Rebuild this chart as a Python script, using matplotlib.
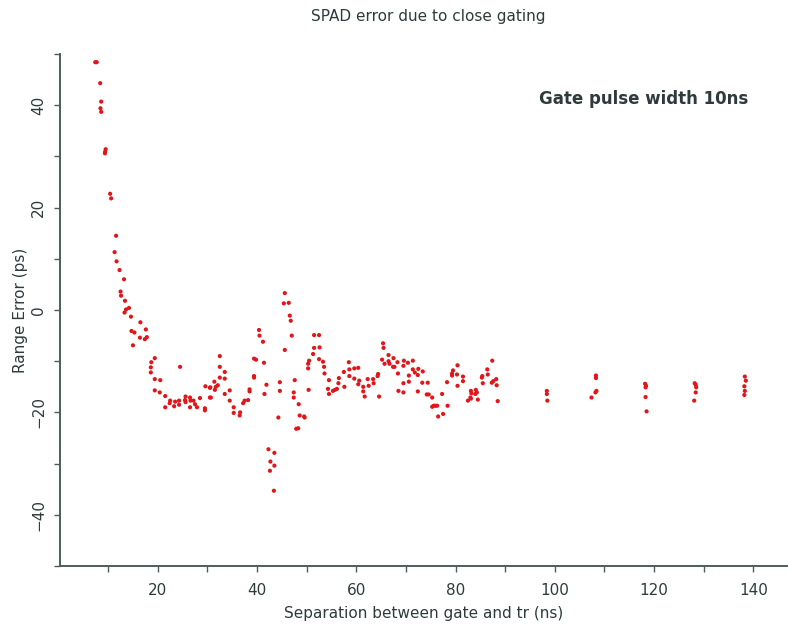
import matplotlib
matplotlib.use("Agg")
import matplotlib.pyplot as plt
from matplotlib.ticker import MultipleLocator

# Data: separation (ns) vs range error (ps)
sep_ns = [
    7.4, 7.7, 8.4, 8.6, 8.45, 8.6, 9.5, 9.4, 9.35, 10.4, 10.6, 11.6, 11.3, 11.7, 12.3, 13.2,
    12.5, 12.6, 13.4, 14.2, 13.6, 13.3, 14.6, 16.5, 17.6, 14.7, 15.3, 16.4, 17.4, 17.8, 15.0,
    19.4, 18.7, 18.6, 18.6, 19.4, 20.5, 24.5, 19.4, 20.4, 21.5, 22.5, 22.4, 23.5, 24.3, 23.3,
    21.5, 24.3, 25.6, 25.5, 25.6, 26.5, 26.6, 27.2, 27.5, 27.9, 28.5, 26.5, 29.5, 29.5, 30.5,
    29.6, 30.6, 31.5, 31.4, 32.1, 31.7, 32.5, 32.5, 32.5, 33.5, 33.5, 34.5, 33.5, 34.5, 35.3,
    35.3, 36.6, 36.5, 38.5, 38.5, 37.5, 37.2, 38.2, 39.4, 39.8, 40.4, 40.5, 41.2, 41.4, 39.4,
    39.4, 41.9, 41.5, 44.3, 42.3, 43.5, 42.7, 43.5, 42.6, 43.4, 45.6, 45.4, 46.4, 46.6, 46.8,
    47.0, 45.6, 44.6, 44.6, 47.6, 47.4, 47.4, 48.4, 48.6, 49.5, 49.6, 48.3, 50.4, 50.3, 50.5,
    50.3, 51.5, 52.5, 51.5, 52.6, 51.3, 52.5, 53.3, 53.5, 53.6, 54.5, 54.3, 54.5, 55.3, 55.7,
    56.1, 56.4, 56.5, 57.6, 57.5, 58.5, 58.6, 58.6, 59.6, 60.4, 59.6, 60.6, 60.4, 61.4, 61.4,
    61.7, 62.3, 62.5, 63.4, 63.5, 64.3, 64.4, 64.6, 65.4, 65.5, 65.2, 66.5, 65.7, 66.5, 66.7,
    67.5, 67.4, 67.7, 68.3, 68.4, 69.6, 69.5, 70.4, 71.4, 70.6, 69.5, 68.5, 69.5, 70.6, 71.4,
    71.8, 72.4, 72.5, 73.4, 72.4, 73.3, 74.4, 74.2, 74.6, 75.3, 75.6, 75.3, 75.9, 76.3, 77.3,
    78.4, 77.5, 76.5, 78.3, 79.3, 79.5, 80.4, 80.3, 81.5, 81.5, 80.4, 79.3, 82.5, 83.0, 83.2,
    84.1, 84.3, 84.5, 85.4, 85.5, 86.4, 86.5, 87.4, 87.3, 88.2, 88.3, 88.5, 85.3, 87.6, 83.1,
    84.0, 83.1, 30.5, 30.7, 47.9,
    98.4, 98.4, 98.5,
    108.3, 108.3, 108.4, 108.2, 107.4,
    118.2, 118.4, 118.3, 118.3, 118.5,
    128.2, 128.4, 128.5, 128.4, 128.1,
    138.3, 138.5, 138.2, 138.3, 138.2,
]
range_err_ps = [
    48.4, 48.4, 44.3, 40.7, 39.4, 38.7, 31.4, 30.9, 30.6, 22.7, 21.8, 14.5, 11.3, 9.5, 7.8, 6.0,
    3.6, 2.8, 1.8, 0.4, 0.1, -0.5, -1.3, -2.4, -3.8, -4.1, -4.4, -5.4, -5.7, -5.3, -6.9,
    -9.4, -10.2, -11.2, -12.2, -13.5, -13.7, -11.1, -15.7, -16.1, -16.8, -17.7, -18.2, -17.9, -17.7, -18.8,
    -19.0, -18.5, -16.9, -17.6, -18.0, -17.1, -17.7, -17.7, -18.4, -19.0, -17.2, -19.0, -19.2, -19.6, -17.1,
    -14.9, -15.1, -15.6, -14.0, -14.7, -15.0, -9.0, -11.1, -13.2, -12.1, -13.4, -15.7, -16.4, -17.7, -19.0,
    -20.1, -20.0, -20.6, -15.5, -15.9, -17.7, -18.2, -17.6, -9.5, -9.7, -3.9, -5.0, -6.2, -10.3, -12.9,
    -13.2, -14.6, -16.4, -21.0, -27.2, -27.9, -29.6, -30.4, -31.4, -35.3, 3.3, 1.3, 1.4, -1.1, -2.1,
    -5.0, -7.8, -14.1, -15.8, -13.7, -16.1, -17.1, -18.4, -20.6, -20.8, -21.0, -23.1, -15.6, -10.5, -9.9,
    -11.4, -4.9, -4.9, -7.4, -7.3, -8.6, -9.6, -10.1, -11.1, -12.4, -13.7, -15.4, -16.4, -15.8, -15.6,
    -15.4, -14.3, -13.3, -15.0, -12.1, -10.2, -11.6, -12.9, -11.4, -11.3, -13.4, -13.8, -14.5, -15.0, -15.9,
    -16.9, -13.5, -14.8, -13.5, -14.3, -12.9, -12.5, -16.9, -6.5, -7.4, -9.7, -8.8, -10.5, -10.0, -10.5,
    -9.4, -11.1, -11.1, -10.2, -12.4, -9.9, -10.9, -10.3, -9.9, -12.8, -14.3, -15.8, -16.1, -14.0, -11.6,
    -12.2, -12.7, -11.5, -12.0, -15.9, -14.2, -14.2, -16.5, -16.5, -17.1, -18.7, -18.9, -18.7, -18.7, -16.4,
    -18.7, -20.3, -20.8, -14.1, -12.8, -11.8, -10.8, -12.6, -13.0, -13.9, -14.8, -12.4, -17.7, -17.1, -16.3,
    -15.6, -16.1, -17.5, -12.9, -14.3, -11.6, -12.6, -9.9, -14.2, -13.5, -14.7, -17.8, -13.2, -13.9, -15.8,
    -16.4, -17.3, -15.2, -17.1, -23.2,
    -15.8, -16.4, -17.7,
    -12.8, -13.3, -15.8, -16.1, -17.1,
    -14.4, -14.8, -15.1, -17.0, -19.8,
    -14.3, -14.6, -15.1, -16.1, -17.7,
    -13.0, -13.8, -14.9, -15.8, -16.6,
]

x_ticks = [20, 40, 60, 80, 100, 120, 140]
y_ticks = [-40, -20, 0, 20, 40]

title = "SPAD error due to close gating"
x_label = "Separation between gate and tr (ns)"
y_label = "Range Error (ps)"
annotation = "Gate pulse width 10ns"

axis_col = "#4d5c5c"
text_col = "#2f3b3b"

fig = plt.figure(figsize=(7.88, 6.25), dpi=100)
ax = fig.add_axes([60 / 788, 59 / 625, 728 / 788, 512 / 625])

ax.scatter(sep_ns, range_err_ps, s=9, color="#e0161a", edgecolors="none", zorder=3)

ax.set_xlim(0.3, 147)
ax.set_ylim(-50, 50)
ax.set_xticks(x_ticks)
ax.set_yticks(y_ticks)
ax.xaxis.set_minor_locator(MultipleLocator(10))
ax.yaxis.set_minor_locator(MultipleLocator(10))

for s in ["top", "right"]:
    ax.spines[s].set_visible(False)
for s in ["left", "bottom"]:
    ax.spines[s].set_color(axis_col)
    ax.spines[s].set_linewidth(1.4)

ax.tick_params(axis="both", which="both", direction="out", length=4, width=1.0,
               color=axis_col, labelcolor=text_col, labelsize=11)
ax.tick_params(axis="x", which="major", pad=8)
ax.tick_params(axis="y", which="major", pad=6)
for lbl in ax.get_yticklabels():
    lbl.set_rotation(90)
    lbl.set_va("center")

ax.set_xlabel(x_label, fontsize=11, color=text_col, labelpad=6)
ax.set_ylabel(y_label, fontsize=11, color=text_col, labelpad=2)
fig.text(428 / 788, 1 - 17 / 625, title, ha="center", va="center", fontsize=11, color=text_col)
fig.text(644 / 788, 1 - 99 / 625, annotation, ha="center", va="center",
         fontsize=12, fontweight="bold", color=text_col)

fig.savefig("out.png", dpi=100)
